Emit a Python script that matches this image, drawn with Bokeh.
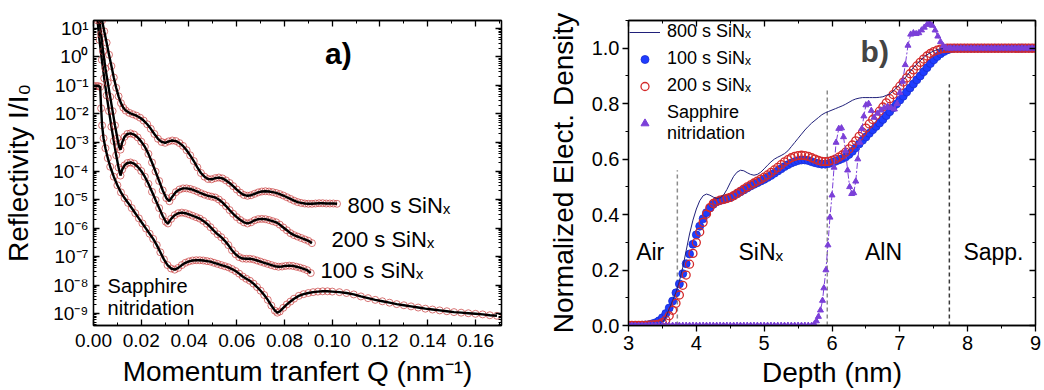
import numpy as np
from bokeh.plotting import figure
from bokeh.layouts import row
from bokeh.models import (Range1d, LinearAxis, LogAxis, FixedTicker, SingleIntervalTicker,
                          CustomJSTickFormatter, NumeralTickFormatter, Legend, LegendItem, Label)
from bokeh.embed import file_html
from bokeh.resources import INLINE

FONT = "Liberation Sans"

# ---------------- Panel a data: Q (nm^-1) and log10(R) ----------------
q800 = [0.0036, 0.0045, 0.0055, 0.0065, 0.0075, 0.0085, 0.0095, 0.0105, 0.0115, 0.0125,
        0.0135, 0.0150, 0.0165, 0.0180, 0.0195, 0.0210, 0.0225, 0.0240, 0.0255, 0.0270,
        0.0285, 0.0300, 0.0315, 0.0330, 0.0345, 0.0360, 0.0375, 0.0390, 0.0405, 0.0420,
        0.0435, 0.0450, 0.0465, 0.0480, 0.0495, 0.0510, 0.0525, 0.0540, 0.0555, 0.0570,
        0.0585, 0.0600, 0.0615, 0.0630, 0.0645, 0.0660, 0.0675, 0.0690, 0.0705, 0.0720,
        0.0735, 0.0750, 0.0765, 0.0780, 0.0795, 0.0810, 0.0825, 0.0840, 0.0855, 0.0870,
        0.0885, 0.0900, 0.0915, 0.0930, 0.0945, 0.0960, 0.0975, 0.0990, 0.1005, 0.1020]
e800 = [1.28, 0.90, 0.50, 0.08, -0.32, -0.72, -1.08, -1.38, -1.62, -1.78,
        -1.88, -1.96, -2.01, -2.06, -2.13, -2.23, -2.36, -2.52, -2.70, -2.87,
        -2.98, -3.01, -2.96, -2.93, -2.95, -3.02, -3.12, -3.27, -3.45, -3.65,
        -3.87, -4.07, -4.20, -4.28, -4.29, -4.25, -4.23, -4.26, -4.33, -4.42,
        -4.53, -4.65, -4.76, -4.84, -4.87, -4.85, -4.80, -4.75, -4.72, -4.71,
        -4.72, -4.74, -4.77, -4.81, -4.86, -4.92, -4.98, -5.04, -5.09, -5.12,
        -5.14, -5.15, -5.15, -5.14, -5.13, -5.13, -5.14, -5.14, -5.14, -5.15]

q200 = [0.0025, 0.0032, 0.0040, 0.0050, 0.0060, 0.0070, 0.0080, 0.0090, 0.0100, 0.0107,
        0.0113, 0.0120, 0.0130, 0.0142, 0.0155, 0.0170, 0.0185, 0.0200, 0.0215, 0.0230,
        0.0245, 0.0260, 0.0275, 0.0290, 0.0305, 0.0318, 0.0330, 0.0345, 0.0360, 0.0375,
        0.0390, 0.0405, 0.0420, 0.0435, 0.0450, 0.0465, 0.0480, 0.0495, 0.0510, 0.0525,
        0.0540, 0.0555, 0.0570, 0.0585, 0.0600, 0.0615, 0.0630, 0.0645, 0.0660, 0.0675,
        0.0690, 0.0705, 0.0720, 0.0735, 0.0750, 0.0765, 0.0780, 0.0795, 0.0810, 0.0825,
        0.0840, 0.0855, 0.0870, 0.0885, 0.0900, 0.0915]
e200 = [1.28, 0.80, 0.20, -0.40, -0.90, -1.40, -1.90, -2.40, -2.85, -3.15,
        -3.25, -3.00, -2.80, -2.70, -2.68, -2.72, -2.82, -2.97, -3.15, -3.40,
        -3.70, -4.02, -4.35, -4.68, -4.95, -5.06, -4.90, -4.74, -4.65, -4.61,
        -4.61, -4.63, -4.67, -4.72, -4.78, -4.83, -4.87, -4.90, -4.93, -5.00,
        -5.10, -5.23, -5.37, -5.50, -5.62, -5.72, -5.80, -5.84, -5.80, -5.73,
        -5.69, -5.68, -5.69, -5.72, -5.76, -5.80, -5.88, -5.98, -6.08, -6.18,
        -6.25, -6.30, -6.35, -6.40, -6.45, -6.53]

q100 = [0.0017, 0.0025, 0.0035, 0.0045, 0.0055, 0.0065, 0.0075, 0.0085, 0.0095, 0.0105,
        0.0113, 0.0120, 0.0130, 0.0142, 0.0155, 0.0170, 0.0185, 0.0200, 0.0215, 0.0230,
        0.0245, 0.0260, 0.0275, 0.0290, 0.0303, 0.0312, 0.0325, 0.0340, 0.0355, 0.0370,
        0.0385, 0.0400, 0.0415, 0.0430, 0.0445, 0.0460, 0.0475, 0.0490, 0.0505, 0.0520,
        0.0535, 0.0550, 0.0565, 0.0580, 0.0595, 0.0610, 0.0625, 0.0640, 0.0655, 0.0670,
        0.0685, 0.0700, 0.0715, 0.0730, 0.0745, 0.0760, 0.0775, 0.0790, 0.0805, 0.0820,
        0.0835, 0.0850, 0.0865, 0.0880, 0.0895, 0.0910]
e100 = [1.28, 0.60, -0.10, -0.75, -1.35, -1.90, -2.45, -2.95, -3.45, -3.88,
        -4.16, -3.95, -3.80, -3.72, -3.70, -3.74, -3.85, -4.00, -4.20, -4.45,
        -4.73, -5.02, -5.30, -5.58, -5.78, -5.84, -5.68, -5.55, -5.48, -5.46,
        -5.48, -5.52, -5.57, -5.62, -5.67, -5.75, -5.85, -5.97, -6.10, -6.22,
        -6.32, -6.45, -6.60, -6.78, -6.92, -7.02, -7.07, -7.08, -7.08, -7.10,
        -7.14, -7.18, -7.22, -7.26, -7.30, -7.34, -7.36, -7.35, -7.33, -7.32,
        -7.33, -7.36, -7.39, -7.43, -7.48, -7.58]

qsap = [0.0000, 0.0010, 0.0020, 0.0028, 0.0032, 0.0036, 0.0042, 0.0050, 0.0060, 0.0070,
        0.0085, 0.0100, 0.0115, 0.0130, 0.0145, 0.0160, 0.0175, 0.0190, 0.0205, 0.0220,
        0.0235, 0.0250, 0.0265, 0.0280, 0.0295, 0.0310, 0.0325, 0.0340, 0.0355, 0.0370,
        0.0385, 0.0400, 0.0415, 0.0430, 0.0445, 0.0460, 0.0475, 0.0490, 0.0505, 0.0520,
        0.0535, 0.0550, 0.0565, 0.0580, 0.0595, 0.0610, 0.0625, 0.0640, 0.0655, 0.0670,
        0.0685, 0.0700, 0.0715, 0.0730, 0.0745, 0.0760, 0.0770, 0.0780, 0.0795, 0.0810,
        0.0825, 0.0840, 0.0860, 0.0880, 0.0900, 0.0920, 0.0940, 0.0960, 0.0980, 0.1000,
        0.1030, 0.1060, 0.1090, 0.1120, 0.1150, 0.1180, 0.1210, 0.1240, 0.1270, 0.1300,
        0.1330, 0.1360, 0.1390, 0.1420, 0.1450, 0.1480, 0.1510, 0.1540, 0.1570, 0.1600,
        0.1630, 0.1660, 0.1690]
esap = [-1.02, -1.02, -1.02, -1.05, -1.80, -2.40, -2.85, -3.20, -3.55, -3.85,
        -4.20, -4.50, -4.75, -4.95, -5.12, -5.30, -5.48, -5.66, -5.84, -6.02,
        -6.20, -6.38, -6.60, -6.85, -7.10, -7.30, -7.42, -7.46, -7.40, -7.30,
        -7.22, -7.17, -7.14, -7.13, -7.13, -7.14, -7.16, -7.18, -7.22, -7.26,
        -7.30, -7.34, -7.38, -7.44, -7.51, -7.60, -7.70, -7.78, -7.85, -7.95,
        -8.07, -8.20, -8.35, -8.52, -8.72, -8.90, -8.97, -8.93, -8.80, -8.68,
        -8.58, -8.48, -8.38, -8.32, -8.28, -8.25, -8.23, -8.22, -8.22, -8.23,
        -8.25, -8.28, -8.33, -8.40, -8.46, -8.52, -8.57, -8.62, -8.67, -8.71,
        -8.75, -8.79, -8.83, -8.86, -8.89, -8.92, -8.95, -8.97, -8.99, -9.01,
        -9.03, -9.06, -9.08]

decades = [-9, -8, -7, -6, -5, -4, -3, -2, -1, 0, 1]

# ---------------- Panel b data: depth (nm) and normalized density ----------------
depth = [round(3.0 + 0.05 * i, 2) for i in range(121)]
dens100 = [0.000, 0.000, 0.000, 0.000, 0.001, 0.002, 0.003, 0.006, 0.010, 0.017,
           0.028, 0.043, 0.063, 0.088, 0.118, 0.150, 0.187, 0.223, 0.258, 0.293,
           0.327, 0.358, 0.385, 0.407, 0.424, 0.437, 0.446, 0.451, 0.454, 0.458,
           0.462, 0.468, 0.475, 0.482, 0.489, 0.496, 0.503, 0.509, 0.515, 0.521,
           0.527, 0.534, 0.541, 0.549, 0.557, 0.565, 0.573, 0.580, 0.586, 0.591,
           0.595, 0.597, 0.597, 0.595, 0.591, 0.587, 0.584, 0.582, 0.582, 0.584,
           0.588, 0.592, 0.597, 0.602, 0.608, 0.617, 0.628, 0.641, 0.655, 0.668,
           0.680, 0.693, 0.706, 0.718, 0.730, 0.743, 0.757, 0.771, 0.785, 0.799,
           0.813, 0.827, 0.842, 0.857, 0.871, 0.886, 0.900, 0.915, 0.930, 0.945,
           0.958, 0.970, 0.980, 0.988, 0.994, 0.998, 1.000, 1.000, 1.000, 1.000,
           1.0, 1.0, 1.0, 1.0, 1.0, 1.0, 1.0, 1.0, 1.0, 1.0,
           1.0, 1.0, 1.0, 1.0, 1.0, 1.0, 1.0, 1.0, 1.0, 1.0,
           1.0]
dens200 = [0.000, 0.000, 0.000, 0.000, 0.000, 0.000, 0.001, 0.002, 0.003, 0.005,
           0.010, 0.020, 0.035, 0.055, 0.080, 0.110, 0.145, 0.182, 0.221, 0.260,
           0.299, 0.337, 0.372, 0.402, 0.425, 0.440, 0.448, 0.452, 0.455, 0.458,
           0.462, 0.468, 0.476, 0.484, 0.492, 0.500, 0.507, 0.514, 0.521, 0.528,
           0.535, 0.543, 0.552, 0.561, 0.570, 0.580, 0.590, 0.598, 0.605, 0.610,
           0.613, 0.614, 0.613, 0.610, 0.605, 0.600, 0.595, 0.592, 0.591, 0.592,
           0.595, 0.600, 0.607, 0.615, 0.625, 0.637, 0.651, 0.666, 0.682, 0.697,
           0.712, 0.727, 0.743, 0.758, 0.773, 0.788, 0.803, 0.818, 0.833, 0.848,
           0.863, 0.878, 0.893, 0.908, 0.922, 0.936, 0.949, 0.961, 0.972, 0.981,
           0.988, 0.993, 0.997, 0.999, 1.000, 1.000, 1.000, 1.000, 1.000, 1.000,
           1.0, 1.0, 1.0, 1.0, 1.0, 1.0, 1.0, 1.0, 1.0, 1.0,
           1.0, 1.0, 1.0, 1.0, 1.0, 1.0, 1.0, 1.0, 1.0, 1.0,
           1.0]
dens800 = [0.000, 0.000, 0.000, 0.000, 0.000, 0.000, 0.000, 0.000, 0.000, 0.003,
           0.010, 0.030, 0.060, 0.090, 0.120, 0.160, 0.210, 0.270, 0.330, 0.380,
           0.420, 0.450, 0.468, 0.474, 0.470, 0.463, 0.458, 0.460, 0.470, 0.490,
           0.515, 0.538, 0.553, 0.560, 0.558, 0.551, 0.545, 0.542, 0.545, 0.553,
           0.565, 0.578, 0.590, 0.600, 0.607, 0.613, 0.620, 0.630, 0.645, 0.660,
           0.675, 0.690, 0.705, 0.718, 0.730, 0.740, 0.750, 0.760, 0.767, 0.772,
           0.777, 0.782, 0.787, 0.792, 0.798, 0.805, 0.812, 0.817, 0.820, 0.822,
           0.822, 0.822, 0.822, 0.822, 0.823, 0.825, 0.830, 0.835, 0.845, 0.857,
           0.870, 0.885, 0.900, 0.915, 0.930, 0.943, 0.955, 0.966, 0.976, 0.984,
           0.990, 0.995, 0.998, 1.000, 1.000, 1.000, 1.000, 1.000, 1.000, 1.000,
           1.0, 1.0, 1.0, 1.0, 1.0, 1.0, 1.0, 1.0, 1.0, 1.0,
           1.0, 1.0, 1.0, 1.0, 1.0, 1.0, 1.0, 1.0, 1.0, 1.0,
           1.0]

sap_depth_low = [round(3.0 + 0.05 * i, 2) for i in range(55)]      # 3.00 .. 5.70
sap_depth_mid = [5.74, 5.77, 5.80, 5.83, 5.86, 5.88, 5.91, 5.94, 5.97, 6.00,
                 6.03, 6.06, 6.10, 6.14, 6.17, 6.20, 6.23, 6.26, 6.29, 6.32,
                 6.35, 6.38, 6.41, 6.44, 6.47, 6.50, 6.54, 6.58, 6.62, 6.67,
                 6.72, 6.77, 6.82, 6.87, 6.92, 6.96, 7.00, 7.04, 7.08, 7.12,
                 7.16, 7.20, 7.24, 7.28, 7.32, 7.36, 7.40, 7.44, 7.48, 7.52,
                 7.56, 7.60, 7.64, 7.68, 7.72]
sap_depth_high = [round(7.75 + 0.05 * i, 2) for i in range(26)]    # 7.75 .. 9.00
sap_vals_mid = [0.005, 0.016, 0.032, 0.055, 0.090, 0.135, 0.200, 0.290, 0.390, 0.470,
                0.570, 0.660, 0.710, 0.712, 0.680, 0.630, 0.560, 0.500, 0.475, 0.478,
                0.520, 0.600, 0.660, 0.710, 0.755, 0.795, 0.800, 0.775, 0.750, 0.765,
                0.776, 0.785, 0.790, 0.785, 0.780, 0.800, 0.840, 0.880, 0.940, 1.010,
                1.050, 1.055, 1.052, 1.055, 1.065, 1.075, 1.085, 1.090, 1.082, 1.065,
                1.043, 1.023, 1.008, 1.002, 1.000]
sap_depth = sap_depth_low + sap_depth_mid + sap_depth_high
sap_vals = [0.0] * len(sap_depth_low) + sap_vals_mid + [1.0] * len(sap_depth_high)

# interface markers (depth, top of dashed line)
iface_x = [3.72, 5.93, 7.73]
iface_top = [0.56, 0.85, 0.87]
iface_col = ["#8c8c8c", "#8c8c8c", "#3a3a3a"]

region_names = ["Air", "SiNₓ", "AlN", "Sapp."]
region_x = [3.32, 4.95, 6.76, 8.38]


def style_axis(ax, inside, label_size, title_size="28px"):
    ax.axis_line_width = 1.3
    ax.axis_line_color = "black"
    ax.major_tick_line_width = 1.3
    ax.minor_tick_line_width = 1.0
    ax.major_tick_line_color = "black"
    ax.minor_tick_line_color = "black"
    if inside:
        ax.major_tick_in, ax.major_tick_out = 6, 0
        ax.minor_tick_in, ax.minor_tick_out = 3, 0
    else:
        ax.major_tick_in, ax.major_tick_out = 0, 6
        ax.minor_tick_in, ax.minor_tick_out = 0, 3
    ax.major_label_text_font = FONT
    ax.major_label_text_font_size = label_size
    ax.major_label_text_color = "black"
    ax.axis_label_text_font = FONT
    ax.axis_label_text_font_size = title_size
    ax.axis_label_text_font_style = "normal"
    ax.axis_label_text_color = "black"


blank = CustomJSTickFormatter(code="return '';")
sup_fmt = CustomJSTickFormatter(code="""
const m = {'-':'\u207b','0':'\u2070','1':'\u00b9','2':'\u00b2','3':'\u00b3','4':'\u2074',
           '5':'\u2075','6':'\u2076','7':'\u2077','8':'\u2078','9':'\u2079'};
const e = Math.round(Math.log10(tick));
return '10' + String(e).split('').map(c => m[c]).join('');
""")

# ---------------- Panel a ----------------
pa = figure(width=510, height=390, y_axis_type="log",
            x_range=Range1d(0, 0.1709), y_range=Range1d(10 ** -9.42, 10 ** 1.28),
            output_backend="svg", toolbar_location=None,
            min_border_left=93, min_border_right=9, min_border_top=20, min_border_bottom=64)
pa.xgrid.visible = False
pa.ygrid.visible = False
pa.outline_line_color = "black"
pa.outline_line_width = 1.3

log_ticker = FixedTicker(ticks=[10.0 ** k for k in decades],
                         minor_ticks=[m * 10.0 ** k for k in range(-10, 2) for m in range(2, 10)])
xa_ticker = SingleIntervalTicker(interval=0.02, num_minor_ticks=2)

xa = pa.below[0]
xa.ticker = xa_ticker
xa.formatter = NumeralTickFormatter(format="0.00")
xa.axis_label = "Momentum tranfert Q (nm⁻¹)"
style_axis(xa, True, "19px")
xa.major_label_standoff = 8
xa.axis_label_standoff = 6

ya = pa.left[0]
ya.ticker = log_ticker
ya.formatter = sup_fmt
ya.axis_label = "Reflectivity I/I₀"
style_axis(ya, True, "19px")
ya.major_label_standoff = 5
ya.axis_label_standoff = 16

top_a = LinearAxis(ticker=xa_ticker, formatter=blank)
style_axis(top_a, True, "1px")
top_a.major_label_standoff = 0
pa.add_layout(top_a, "above")
right_a = LogAxis(ticker=log_ticker, formatter=blank)
style_axis(right_a, True, "1px")
right_a.major_label_standoff = 0
pa.add_layout(right_a, "right")

for q, e in [(qsap, esap), (q100, e100), (q200, e200), (q800, e800)]:
    r = [10.0 ** v for v in e]
    pa.scatter(q, r, marker="circle", size=7, fill_color=None,
               line_color="#c83c3c", line_alpha=0.7, line_width=1)
    pa.line(q, r, line_color="black", line_width=2.4)

for txt, qx, ex, size, bold in [("a)", 0.1026, 0.12, "30px", True),
                                ("800 s SiNₓ", 0.1064, -5.21, "22px", False),
                                ("200 s SiNₓ", 0.0997, -6.40, "22px", False),
                                ("100 s SiNₓ", 0.0951, -7.49, "22px", False),
                                ("Sapphire", 0.0059, -8.02, "20px", False),
                                ("nitridation", 0.0059, -8.79, "20px", False)]:
    pa.add_layout(Label(x=qx, y=10 ** ex, text=txt, text_font=FONT, text_font_size=size,
                        text_font_style="bold" if bold else "normal",
                        text_align="center" if bold else "left", text_baseline="middle",
                        text_color="black"))

# ---------------- Panel b ----------------
pb = figure(width=532, height=390, x_range=Range1d(3, 9), y_range=Range1d(0, 1.1),
            output_backend="svg", toolbar_location=None,
            min_border_left=118, min_border_right=7, min_border_top=20, min_border_bottom=64)
pb.xgrid.visible = False
pb.ygrid.visible = False
pb.outline_line_color = "black"
pb.outline_line_width = 1.3

xb_ticker = SingleIntervalTicker(interval=1, num_minor_ticks=2)
yb_ticker = SingleIntervalTicker(interval=0.2, num_minor_ticks=2)

xb = pb.below[0]
xb.ticker = xb_ticker
xb.axis_label = "Depth (nm)"
style_axis(xb, False, "20px")
xb.major_label_standoff = 4
xb.axis_label_standoff = 4

yb = pb.left[0]
yb.ticker = yb_ticker
yb.formatter = NumeralTickFormatter(format="0.0")
yb.axis_label = "Normalized Elect. Density"
style_axis(yb, False, "20px")
yb.major_label_standoff = 3
yb.axis_label_standoff = 10

top_b = LinearAxis(ticker=xb_ticker, formatter=blank)
style_axis(top_b, True, "1px")
top_b.major_label_standoff = 0
pb.add_layout(top_b, "above")
right_b = LinearAxis(ticker=yb_ticker, formatter=blank)
style_axis(right_b, True, "1px")
right_b.major_label_standoff = 0
pb.add_layout(right_b, "right")

pb.segment(x0=iface_x, y0=[0, 0, 0], x1=iface_x, y1=iface_top,
           line_color=iface_col, line_width=1.5, line_dash="4 3")

r100 = pb.scatter(depth, dens100, marker="circle", size=8, fill_color="#1f3cff",
                  line_color="#1a2fd0", line_width=0.8)
r200 = pb.scatter(depth, dens200, marker="circle", size=8, fill_color=None,
                  line_color="#d42a2a", line_width=1.3)
r800 = pb.line(depth, dens800, line_color="#20207a", line_width=1)
pb.line(sap_depth, sap_vals, line_color="#7b3fd8", line_width=1, line_dash="6 2 2 2")
rsap = pb.scatter(sap_depth, sap_vals, marker="triangle", size=6, fill_color="#7b3fd8",
                  line_color="#7b3fd8")

for name, xr in zip(region_names, region_x):
    pb.add_layout(Label(x=xr, y=0.266, text=name, text_font=FONT, text_font_size="23px",
                        text_align="center", text_baseline="middle", text_color="black"))
pb.add_layout(Label(x=6.63, y=0.99, text="b)", text_font=FONT, text_font_size="30px",
                    text_font_style="bold", text_align="center", text_baseline="middle"))

legend = Legend(items=[LegendItem(label="800 s SiNₓ", renderers=[r800]),
                       LegendItem(label="100 s SiNₓ", renderers=[r100]),
                       LegendItem(label="200 s SiNₓ", renderers=[r200]),
                       LegendItem(label="Sapphire\nnitridation", renderers=[rsap])],
                location="top_left", border_line_color=None, background_fill_alpha=0,
                label_text_font=FONT, label_text_font_size="18px", label_text_color="black",
                glyph_width=31, glyph_height=20, label_height=20, spacing=6, padding=8,
                margin=1, label_standoff=7)
pb.add_layout(legend)

layout = row(pa, pb)
open("out.html", "w").write(file_html(layout, INLINE))
